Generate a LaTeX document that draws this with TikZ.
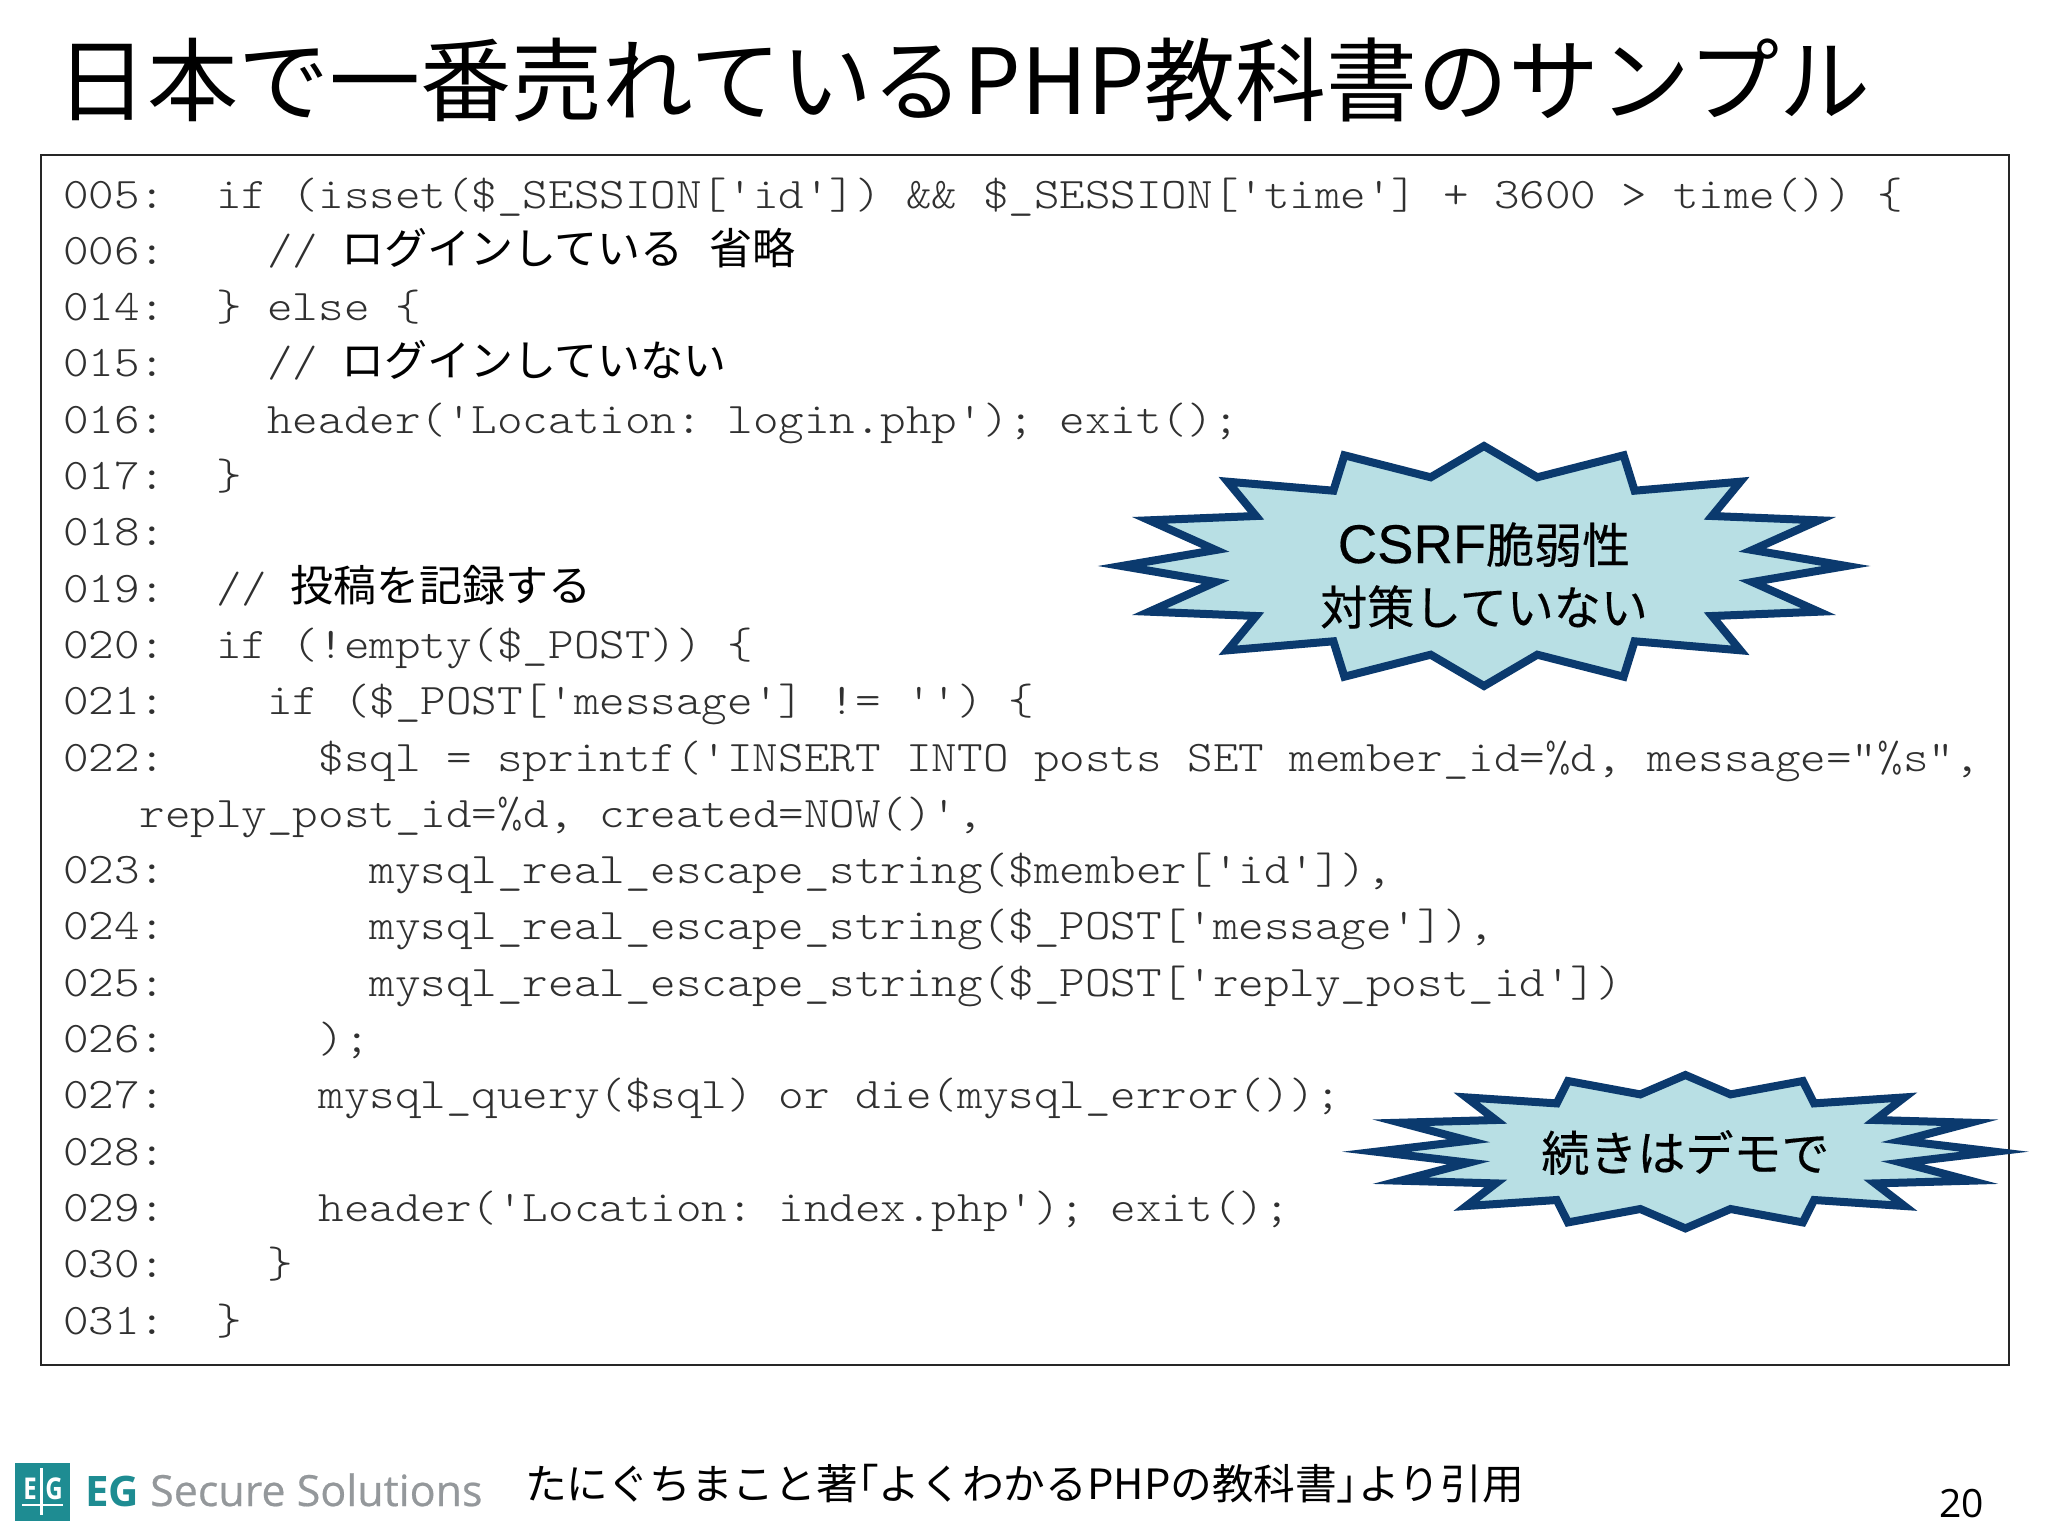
\documentclass[tikz,border=0pt]{standalone}
\usepackage{fontspec}
\setmainfont{Noto Sans CJK JP}
\newfontfamily\jp{Noto Sans CJK JP}
\newfontfamily\jpb[FakeBold=0.35]{Noto Sans CJK JP}
\newfontfamily\jpcite[RawFeature=+palt]{Noto Sans CJK JP}
\newfontfamily\burstlatin[FakeBold=0.35]{Liberation Sans}
\newfontfamily\codefont[FakeStretch=1.114]{Latin Modern Mono Light}
\newfontfamily\logofont{Open Sans}
\newfontfamily\logofontb[FakeBold=0.5]{Open Sans}
\newfontfamily\logomark[FakeStretch=0.8]{Open Sans}
\newcommand{\pxfont}[1]{\fontsize{#1}{#1}\selectfont}
\newcommand{\codeat}[4]{\node[codetext] (#1) at ({63+25.55*#2},{208+56.3*#3}) {#4};}
\definecolor{codegray}{HTML}{303030}
\definecolor{burstline}{HTML}{0B3A6E}
\definecolor{burstfill}{HTML}{B8DFE4}
\definecolor{logoteal}{HTML}{1E8C92}
\definecolor{logogray}{HTML}{94989B}
\tikzset{
  codetext/.style={anchor=base west,inner sep=0pt,outer sep=0pt,text=codegray,font=\codefont\pxfont{43.7}\frenchspacing},
  jptext/.style={anchor=base west,inner sep=0pt,outer sep=0pt,text=black,font=\jp\pxfont{43}},
  burstshape/.style={draw=burstline,fill=burstfill,line width=8pt,miter limit=30,line join=miter},
  bursttext/.style={anchor=base,inner sep=0pt,outer sep=0pt,text=black,font=\jpb\pxfont{48}},
}
\begin{document}
\begin{tikzpicture}[x=1pt,y=-1pt]
\useasboundingbox[fill=white] (0,0) rectangle (2048,1536);
% title
\node[anchor=base west,inner sep=0pt,font=\jp\pxfont{91}] (title) at (56,115) {日本で一番売れているPHP教科書のサンプル};
% frame
\node[draw=black!85,line width=2pt,minimum width=1967.5pt,minimum height=1209.5pt,inner sep=0pt,anchor=north west] (frame) at (40,154.5) {};
% code
\codeat{a0}{0}{0}{005:}
\codeat{a0b}{6}{0}{if (isset(\$\_SESSION['id']) \&\& \$\_SESSION['time'] + 3600 > time()) \{}
\codeat{a1}{0}{1}{006:}
\codeat{a1b}{8}{1}{//}
\node[jptext] (a1c) at (341,264) {ログインしている};
\node[jptext] (a1d) at (709,264) {省略};
\codeat{a2}{0}{2}{014:}
\codeat{a2b}{6}{2}{\} else \{}
\codeat{a3}{0}{3}{015:}
\codeat{a3b}{8}{3}{//}
\node[jptext] (a3c) at (341,376.6) {ログインしていない};
\codeat{a4}{0}{4}{016:}
\codeat{a4b}{8}{4}{header('Location: login.php'); exit();}
\codeat{a5}{0}{5}{017:}
\codeat{a5b}{6}{5}{\}}
\codeat{a6}{0}{6}{018:}
\codeat{a7}{0}{7}{019:}
\codeat{a7b}{6}{7}{//}
\node[jptext] (a7c) at (290,601.1) {投稿を記録する};
\codeat{a8}{0}{8}{020:}
\codeat{a8b}{6}{8}{if (!empty(\$\_POST)) \{}
\codeat{a9}{0}{9}{021:}
\codeat{a9b}{8}{9}{if (\$\_POST['message'] != '') \{}
\codeat{a10}{0}{10}{022:}
\codeat{a10b}{10}{10}{\$sql = sprintf('INSERT INTO posts SET member\_id=\%d, message="\%s",}
\codeat{a11}{3}{11}{reply\_post\_id=\%d, created=NOW()',}
\codeat{a12}{0}{12}{023:}
\codeat{a12b}{12}{12}{mysql\_real\_escape\_string(\$member['id']),}
\codeat{a13}{0}{13}{024:}
\codeat{a13b}{12}{13}{mysql\_real\_escape\_string(\$\_POST['message']),}
\codeat{a14}{0}{14}{025:}
\codeat{a14b}{12}{14}{mysql\_real\_escape\_string(\$\_POST['reply\_post\_id'])}
\codeat{a15}{0}{15}{026:}
\codeat{a15b}{10}{15}{);}
\codeat{a16}{0}{16}{027:}
\codeat{a16b}{10}{16}{mysql\_query(\$sql) or die(mysql\_error());}
\codeat{a17}{0}{17}{028:}
\codeat{a18}{0}{18}{029:}
\codeat{a18b}{10}{18}{header('Location: index.php'); exit();}
\codeat{a19}{0}{19}{030:}
\codeat{a19b}{8}{19}{\}}
\codeat{a20}{0}{20}{031:}
\codeat{a20b}{6}{20}{\}}
% bursts
\draw[burstshape,shift={(1484,566)}] (0,-120)--(53.3,-88.7)--(139.6,-110.7)--(150.6,-75.3)--(256.3,-84.3)--(228,-50)--(334.7,-45.7)--(268.3,-16)--(362.4,0)--(268.3,16)--(334.7,45.7)--(228,50)--(256.3,84.3)--(150.6,75.3)--(139.6,110.7)--(53.3,88.7)--(0,120)--(-53.3,88.7)--(-139.6,110.7)--(-150.6,75.3)--(-256.3,84.3)--(-228,50)--(-334.7,45.7)--(-268.3,16)--(-362.4,0)--(-268.3,-16)--(-334.7,-45.7)--(-228,-50)--(-256.3,-84.3)--(-150.6,-75.3)--(-139.6,-110.7)--(-53.3,-88.7)--cycle;
\node[bursttext] (b1a) at (1484,563) {{\burstlatin\pxfont{54.5}CSRF}脆弱性};
\node[bursttext,font=\jpb\pxfont{47}] (b1b) at (1484,625) {対策していない};
\draw[burstshape,shift={(1685.4,1151.7)}] (0,-76.7)--(45.1,-57.3)--(117.4,-70.7)--(128.7,-48.3)--(219,-54.3)--(189.6,-31.7)--(284.9,-29)--(216.7,-11)--(309.3,0)--(216.7,11)--(284.9,29)--(189.6,31.7)--(219,54.3)--(128.7,48.3)--(117.4,70.7)--(45.1,57.3)--(0,76.7)--(-45.1,57.3)--(-117.4,70.7)--(-128.7,48.3)--(-219,54.3)--(-189.6,31.7)--(-284.9,29)--(-216.7,11)--(-309.3,0)--(-216.7,-11)--(-284.9,-29)--(-189.6,-31.7)--(-219,-54.3)--(-128.7,-48.3)--(-117.4,-70.7)--(-45.1,-57.3)--cycle;
\node[bursttext] (b2) at (1685.4,1171) {続きはデモで};
% footer
\fill[logoteal] (15,1463) rectangle (70,1521);
\draw[white,line width=2.5pt] (41.7,1468) -- (41.7,1515);
\draw[white,line width=2.5pt] (22,1505) -- (63,1505);
\node[inner sep=0pt,anchor=base,text=white,font=\logomark\bfseries\pxfont{30}] (logoe) at (30,1499) {E};
\node[inner sep=0pt,anchor=base,text=white,font=\logomark\bfseries\pxfont{30}] (logog) at (54,1499) {G};
\node[anchor=base west,inner sep=0pt,text=logoteal,font=\logofont\bfseries\pxfont{42}] (logoa) at (85,1506) {EG};
\node[anchor=base west,inner sep=0pt,text=logogray,font=\logofontb\pxfont{43}] (logob) at (150,1506) {Secure Solutions};
\node[anchor=base west,inner sep=0pt,font=\jp\pxfont{41.7}] (cite) at (525,1499) {たにぐちまこと著{\jpcite「}よくわかるPHPの教科書{\jpcite」}より引用};
\node[anchor=base west,inner sep=0pt,font=\logofont\pxfont{39}] (page) at (1939,1517) {20};
\end{tikzpicture}
\end{document}
